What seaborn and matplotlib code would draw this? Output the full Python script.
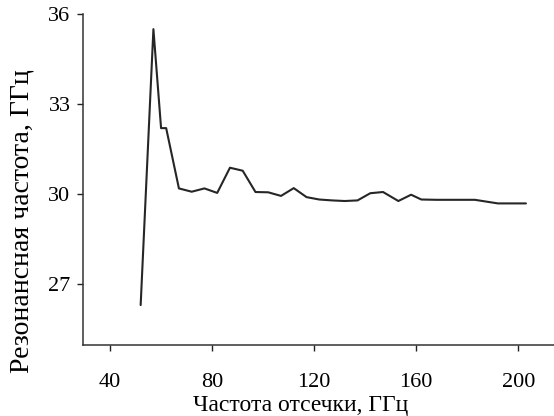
import matplotlib
matplotlib.use("Agg")
import matplotlib.pyplot as plt
import seaborn as sns
import pandas as pd

cutoff_freq = [52, 57, 60, 62, 67, 72, 77, 82, 87, 92, 97, 102, 107, 112, 117, 122,
               127, 132, 137, 142, 147, 153, 158, 162, 168, 175, 183, 192, 197, 203]
resonant_freq = [26.3, 35.5, 32.2, 32.2, 30.19, 30.08, 30.19, 30.04, 30.88, 30.78,
                 30.07, 30.06, 29.94, 30.2, 29.9, 29.82, 29.79, 29.77, 29.79, 30.03,
                 30.07, 29.77, 29.98, 29.82, 29.81, 29.81, 29.81, 29.69, 29.69, 29.69]
x_ticks = [40, 80, 120, 160, 200]
y_ticks = [27, 30, 33, 36]

sns.set_theme(style="ticks")
plt.rcParams['font.family'] = ['Liberation Serif', 'DejaVu Serif']

df = pd.DataFrame({"x": cutoff_freq, "y": resonant_freq})

fig = plt.figure(figsize=(5.54, 4.16), dpi=100)
ax = fig.add_axes([0.1498, 0.1707, 0.8502, 0.7953])
sns.lineplot(data=df, x="x", y="y", ax=ax, color="#262626", linewidth=1.5, sort=False)

ax.set_xlim(29.4, 214)
ax.set_ylim(24.97, 36)
ax.set_xticks(x_ticks)
ax.set_yticks(y_ticks)
ax.tick_params(axis="both", labelsize=16, colors="#222222", width=1.0, length=4.5, direction="out")
ax.tick_params(axis="x", pad=16)
ax.tick_params(axis="y", pad=4.5)
for lab in ax.get_xticklabels() + ax.get_yticklabels():
    lab.set_color("black")
sns.despine(ax=ax)
for s in ["left", "bottom"]:
    ax.spines[s].set_linewidth(1.1)
    ax.spines[s].set_color("#333333")
ax.set_xlabel("Частота отсечки, ГГц", fontsize=17, color="black")
ax.set_ylabel("Резонансная частота, ГГц", fontsize=20, color="black")
ax.xaxis.set_label_coords(0.463, -0.152)
ax.yaxis.set_label_coords(-0.104, 0.375)

fig.savefig("out.png", dpi=100)
